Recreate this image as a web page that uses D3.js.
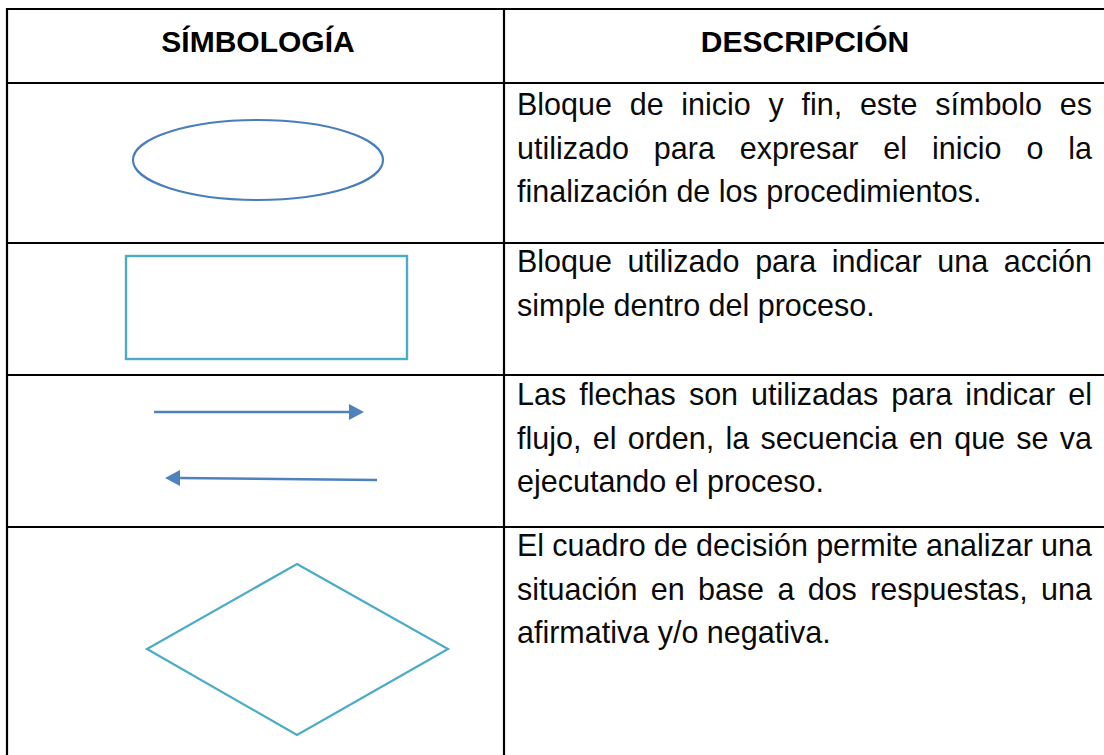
<!DOCTYPE html>
<html>
<head>
<meta charset="utf-8">
<script src="https://cdn.jsdelivr.net/npm/d3@7"></script>
<style>
  html, body { margin: 0; padding: 0; background: #fff; }
  svg { display: block; }
</style>
</head>
<body>
<svg id="chart" width="1104" height="755"></svg>
<script>
// ---- data ----
const headers = ["SÍMBOLOGÍA", "DESCRIPCIÓN"];
const symbols = ["terminal", "process", "arrows", "decision"];
const descriptions = [
  ["Bloque de inicio y fin, este símbolo es",
   "utilizado para expresar el inicio o la",
   "finalización de los procedimientos."],
  ["Bloque utilizado para indicar una acción",
   "simple dentro del proceso."],
  ["Las flechas son utilizadas para indicar el",
   "flujo, el orden, la secuencia en que se va",
   "ejecutando el proceso."],
  ["El cuadro de decisión permite analizar una",
   "situación en base a dos respuestas, una",
   "afirmativa y/o negativa."]
];

// ---- layout ----
const W = 1104, H = 755;
const svg = d3.select("#chart");
const font = "'Liberation Sans', Arial, sans-serif";
const fontSize = 30.5;
const hdrSize = 30;
const lineGap = 43.5;
const tableTop = 9, tableLeft = 7, colX = 504;
const rowEdges = [83, 243, 375, 527, 800];
const firstOffsets = [32, 29, 30, 29];
const textLeft = 517, textRight = 1092;

const g = svg.append("g");

// grid lines
const hLines = [tableTop].concat(rowEdges.slice(0, 4));
g.selectAll("line.h").data(hLines).join("line")
  .attr("class", "h")
  .attr("x1", tableLeft - 1).attr("x2", W)
  .attr("y1", d => d).attr("y2", d => d)
  .attr("stroke", "#000").attr("stroke-width", 2.2);
g.selectAll("line.v").data([tableLeft, colX]).join("line")
  .attr("class", "v")
  .attr("x1", d => d).attr("x2", d => d)
  .attr("y1", tableTop - 1).attr("y2", H)
  .attr("stroke", "#000").attr("stroke-width", 2.2);

// headers
const headerCenters = [258, 805];
g.selectAll("text.hdr").data(headers).join("text")
  .attr("class", "hdr")
  .attr("x", (d, i) => headerCenters[i])
  .attr("y", 52)
  .attr("text-anchor", "middle")
  .attr("font-family", font)
  .attr("font-weight", "bold")
  .attr("font-size", hdrSize)
  .attr("fill", "#000")
  .text(d => d);

// space width
const spaceW = (() => {
  const a = g.append("text").attr("font-family", font).attr("font-size", fontSize).text("a a");
  const b = g.append("text").attr("font-family", font).attr("font-size", fontSize).text("aa");
  const v = a.node().getComputedTextLength() - b.node().getComputedTextLength();
  a.remove(); b.remove();
  return v;
})();

// justified description text
descriptions.forEach((lines, r) => {
  const firstBaseline = rowEdges[r] + firstOffsets[r];
  lines.forEach((line, li) => {
    const y = firstBaseline + li * lineGap;
    const words = line.split(" ");
    const isLast = li === lines.length - 1;
    const t = g.append("text")
      .attr("font-family", font)
      .attr("font-size", fontSize)
      .attr("fill", "#0a0a0a")
      .attr("y", y);
    const spans = words.map(w => t.append("tspan").text(w));
    const widths = spans.map(s => s.node().getComputedTextLength());
    const total = d3.sum(widths);
    const avail = textRight - textLeft;
    let gap = (isLast || words.length < 2) ? spaceW : (avail - total) / (words.length - 1);
    if (!isLast && gap < spaceW * 0.6) gap = spaceW * 0.6;
    const full = total + gap * (words.length - 1);
    const scale = (!isLast && full > avail) ? avail / full : 1;
    let px = 0;
    spans.forEach((s, i) => {
      s.attr("x", textLeft + px);
      px += widths[i] + gap;
    });
    if (scale < 1) {
      t.attr("transform", `translate(${textLeft},0) scale(${scale},1) translate(${-textLeft},0)`);
    }
  });
});

// symbols
const blue = "#4a7ebb", arrowBlue = "#4f81bd", teal = "#4bacc6";
const sym = g.append("g");
const line = d3.line();

// terminal (ellipse)
sym.append("ellipse")
  .attr("cx", 258).attr("cy", 160).attr("rx", 125).attr("ry", 40)
  .attr("fill", "none").attr("stroke", blue).attr("stroke-width", 2.2);

// process (rectangle)
sym.append("rect")
  .attr("x", 126).attr("y", 256).attr("width", 281).attr("height", 103)
  .attr("fill", "none").attr("stroke", teal).attr("stroke-width", 2.4);

// arrows
sym.append("path").attr("d", line([[154, 412], [350, 412]]))
  .attr("stroke", arrowBlue).attr("stroke-width", 2.4).attr("fill", "none");
sym.append("path").attr("d", line([[349, 404], [364, 412], [349, 420]]) + "Z")
  .attr("fill", arrowBlue);
sym.append("path").attr("d", line([[377, 480], [179, 478]]))
  .attr("stroke", arrowBlue).attr("stroke-width", 2.4).attr("fill", "none");
sym.append("path").attr("d", line([[180, 470], [165, 478], [180, 486]]) + "Z")
  .attr("fill", arrowBlue);

// decision (diamond)
sym.append("path").attr("d", line([[297, 564], [448, 649], [297, 735], [147, 649]]) + "Z")
  .attr("fill", "none").attr("stroke", teal).attr("stroke-width", 2.2);
</script>
</body>
</html>
